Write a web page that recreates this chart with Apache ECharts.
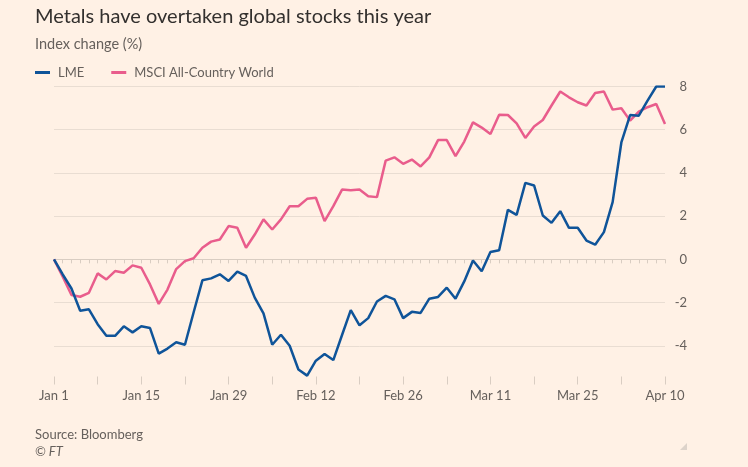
<!DOCTYPE html>
<html>
<head>
<meta charset="utf-8">
<script src="https://cdn.jsdelivr.net/npm/echarts@6/dist/echarts.min.js"></script>
<style>
html,body{margin:0;padding:0;background:#fff1e5;}
#chart{width:748px;height:467px;}
</style>
</head>
<body>
<div id="chart"></div>
<script>
const dates = [
 "Jan 1","Jan 2","Jan 3","Jan 4","Jan 5","Jan 8","Jan 9","Jan 10","Jan 11","Jan 12",
 "Jan 15","Jan 16","Jan 17","Jan 18","Jan 19","Jan 22","Jan 23","Jan 24","Jan 25","Jan 26",
 "Jan 29","Jan 30","Jan 31","Feb 1","Feb 2","Feb 5","Feb 6","Feb 7","Feb 8","Feb 9",
 "Feb 12","Feb 13","Feb 14","Feb 15","Feb 16","Feb 19","Feb 20","Feb 21","Feb 22","Feb 23",
 "Feb 26","Feb 27","Feb 28","Feb 29","Mar 1","Mar 4","Mar 5","Mar 6","Mar 7","Mar 8",
 "Mar 11","Mar 12","Mar 13","Mar 14","Mar 15","Mar 18","Mar 19","Mar 20","Mar 21","Mar 22",
 "Mar 25","Mar 26","Mar 27","Mar 28","Apr 2","Apr 3","Apr 4","Apr 5","Apr 8","Apr 9",
 "Apr 10"
];
const lme = [
 0, -0.7, -1.35, -2.38, -2.31, -3.0, -3.54, -3.54, -3.1, -3.38,
 -3.1, -3.18, -4.36, -4.13, -3.84, -3.95, -2.45, -0.97, -0.88, -0.69,
 -1.0, -0.57, -0.77, -1.77, -2.5, -3.95, -3.49, -4.0, -5.1, -5.38,
 -4.69, -4.38, -4.66, -3.5, -2.35, -3.05, -2.72, -1.95, -1.69, -1.85,
 -2.72, -2.43, -2.48, -1.82, -1.74, -1.31, -1.82, -1.02, -0.05, -0.55,
 0.34, 0.42, 2.29, 2.06, 3.54, 3.42, 2.03, 1.69, 2.23, 1.46,
 1.46, 0.87, 0.68, 1.26, 2.65, 5.41, 6.68, 6.65, 7.35, 8.0,
 8.0
];
const msci = [
 0, -0.8, -1.65, -1.73, -1.55, -0.65, -0.93, -0.54, -0.62, -0.28,
 -0.39, -1.16, -2.06, -1.4, -0.45, -0.08, 0.05, 0.54, 0.82, 0.92,
 1.54, 1.46, 0.54, 1.15, 1.85, 1.38, 1.85, 2.46, 2.46, 2.8,
 2.85, 1.77, 2.46, 3.23, 3.2, 3.23, 2.92, 2.88, 4.57, 4.72,
 4.42, 4.62, 4.3, 4.72, 5.52, 5.52, 4.78, 5.45, 6.34, 6.1,
 5.8, 6.69, 6.68, 6.29, 5.62, 6.15, 6.45, 7.12, 7.77, 7.5,
 7.27, 7.12, 7.7, 7.77, 6.93, 6.99, 6.42, 6.84, 7.04, 7.19,
 6.26
];
const yTicks = [-6, -4, -2, 0, 2, 4, 6, 8];
const labelIdx = [0, 10, 20, 30, 40, 50, 60, 70];

const FONT = 'Lato, "Open Sans", sans-serif';
const gridColor = '#e9ddd2';
const textColor = '#66605c';

const chart = echarts.init(document.getElementById('chart'), null, {renderer: 'canvas'});
chart.setOption({
  backgroundColor: '#fff1e5',
  animation: false,
  textStyle: {fontFamily: FONT},
  title: [
    {text: 'Metals have overtaken global stocks this year', left: 30, top: 2,
     textStyle: {fontFamily: FONT, fontSize: 20, fontWeight: 'normal', color: '#33302e'}},
    {text: 'Index change (%)', left: 30, top: 32,
     textStyle: {fontFamily: FONT, fontSize: 14.5, fontWeight: 'normal', color: textColor}},
    {text: 'Source: Bloomberg', left: 30, top: 423,
     textStyle: {fontFamily: FONT, fontSize: 13, fontWeight: 'normal', color: textColor}},
    {text: '© FT', left: 30, top: 440,
     textStyle: {fontFamily: FONT, fontSize: 13, fontWeight: 'normal', fontStyle: 'italic', color: textColor}}
  ],
  legend: {
    left: 30, top: 61, icon: 'rect', itemWidth: 15, itemHeight: 3, itemGap: 27,
    textStyle: {fontFamily: FONT, fontSize: 13, color: textColor, padding: [0, 0, 0, 3]},
    data: ['LME', 'MSCI All-Country World']
  },
  grid: {left: 54, right: 83, top: 86.5, bottom: 78, containLabel: false},
  xAxis: [
    {
      type: 'category', data: dates, boundaryGap: false, offset: -12.5,
      axisLine: {show: true, lineStyle: {color: '#d9cdc2', width: 1}},
      axisTick: {show: true, interval: 0, length: 4, lineStyle: {color: '#d9cdc2'}},
      axisLabel: {
        interval: (i) => labelIdx.indexOf(i) >= 0,
        margin: 13, fontSize: 13, color: textColor, fontFamily: FONT
      },
      splitLine: {show: false}
    },
    {
      type: 'category', data: dates, boundaryGap: false, position: 'bottom', offset: -12.5,
      axisLine: {show: false},
      axisTick: {show: true, interval: 4, length: 8, lineStyle: {color: '#d9cdc2'}},
      axisLabel: {show: false},
      splitLine: {show: false}
    }
  ],
  yAxis: {
    type: 'value', position: 'right', min: -6, max: 8, interval: 2,
    axisLine: {show: false}, axisTick: {show: false},
    axisLabel: {
      align: 'right', margin: 22, fontSize: 13, color: textColor, fontFamily: FONT,
      formatter: (v) => v === -6 ? '' : String(v)
    },
    splitLine: {show: true, lineStyle: {color: ['rgba(0,0,0,0)', gridColor, gridColor, gridColor, gridColor, gridColor, gridColor, gridColor], width: 1}}
  },
  series: [
    {name: 'LME', type: 'line', data: lme, symbol: 'none', z: 3,
     itemStyle: {color: '#0f5499'}, lineStyle: {color: '#0f5499', width: 2.5}},
    {name: 'MSCI All-Country World', type: 'line', data: msci, symbol: 'none', z: 2,
     itemStyle: {color: '#e95d8c'}, lineStyle: {color: '#e95d8c', width: 2.5}}
  ],
  graphic: [
    {type: 'polygon', shape: {points: [[687, 443], [687, 450], [680, 450]]},
     style: {fill: '#ddd3ca'}}
  ]
});
</script>
</body>
</html>
